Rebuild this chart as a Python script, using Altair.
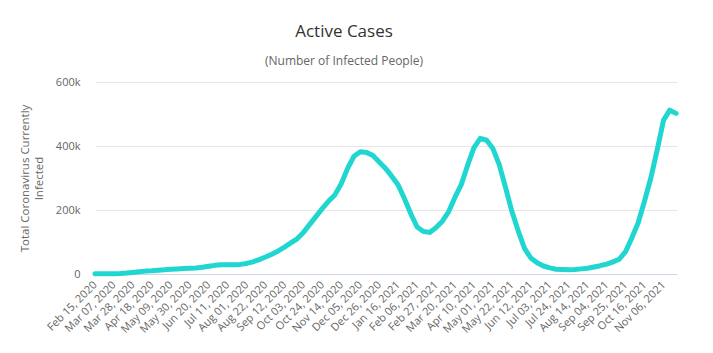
import altair as alt
import pandas as pd

# Weekly readings of active cases (thousands), starting Feb 15, 2020
start_date = "2020-02-15"
active_k = [
    0.5, 0.5, 0.5, 1, 1.5, 3, 5, 7, 9, 10,
    12, 13, 15, 16, 17, 18, 19, 21, 24, 27,
    29, 29, 29, 30, 33, 38, 45, 53, 62, 72,
    84, 97, 110, 130, 155, 180, 205, 228, 248, 283,
    330, 368, 382, 380, 370, 350, 330, 305, 278, 235,
    188, 147, 133, 130, 145, 165, 195, 240, 280, 340,
    395, 424, 418, 392, 342, 270, 196, 135, 80, 50,
    35, 25, 19, 15, 14, 13, 14, 16, 18, 22,
    26, 31, 38, 46, 70, 113, 160, 228, 300, 387,
    480, 512, 502,
]

tick_labels = [
    "2020-02-15", "2020-03-07", "2020-03-28", "2020-04-18", "2020-05-09",
    "2020-05-30", "2020-06-20", "2020-07-11", "2020-08-01", "2020-08-22",
    "2020-09-12", "2020-10-03", "2020-10-24", "2020-11-14", "2020-12-05",
    "2020-12-26", "2021-01-16", "2021-02-06", "2021-02-27", "2021-03-20",
    "2021-04-10", "2021-05-01", "2021-05-22", "2021-06-12", "2021-07-03",
    "2021-07-24", "2021-08-14", "2021-09-04", "2021-09-25", "2021-10-16",
    "2021-11-06",
]
y_ticks = [0, 200000, 400000, 600000]

dates = pd.date_range(start_date, periods=len(active_k), freq="7D")
df = pd.DataFrame({
    "date": dates.strftime("%Y-%m-%d"),
    "active": [v * 1000 for v in active_k],
})

def dt(s):
    y, m, d = (int(p) for p in s.split("-"))
    return alt.DateTime(year=y, month=m, date=d, utc=True)

FONT = "Open Sans"

chart = alt.Chart(df).mark_line(
    color="#20d6d1", strokeWidth=5, strokeJoin="round", strokeCap="round"
).encode(
    x=alt.X(
        "date:T",
        scale=alt.Scale(type="utc", domain=[dt("2020-02-15"), dt("2021-11-21")]),
        axis=alt.Axis(
            title=None,
            values=[dt(s) for s in tick_labels],
            format="%b %d, %Y",
            labelAngle=-45,
            labelAlign="right",
            labelBaseline="middle",
            labelFont=FONT,
            labelFontSize=11,
            labelColor="#666666",
            labelPadding=9,
            labelOverlap=False,
            labelBound=False,
            labelFlush=False,
            grid=False,
            ticks=False,
            domainColor="#ccd6eb",
            domainWidth=1,
        ),
    ),
    y=alt.Y(
        "active:Q",
        scale=alt.Scale(domain=[0, 600000], nice=False),
        axis=alt.Axis(
            title=["Total Coronavirus Currently", "Infected"],
            titleFont=FONT,
            titleFontSize=11.5,
            titleFontWeight="normal",
            titleColor="#666666",
            titleLineHeight=14,
            titlePadding=11,
            values=y_ticks,
            labelExpr="datum.value == 0 ? '0' : format(datum.value / 1000, 'd') + 'k'",
            labelFont=FONT,
            labelFontSize=11,
            labelColor="#666666",
            labelPadding=15,
            domain=False,
            ticks=False,
            gridColor="#e6e6e6",
            gridWidth=1,
        ),
    ),
).properties(
    width=582,
    height=192,
    padding={"left": 95, "top": 82, "right": 36, "bottom": 79},
    autosize=alt.AutoSizeParams(type="none"),
    title=alt.TitleParams(
        text="Active Cases",
        subtitle="(Number of Infected People)",
        anchor="middle",
        font=FONT,
        fontSize=17,
        fontWeight="normal",
        color="#333333",
        subtitleFont=FONT,
        subtitleFontSize=12,
        subtitleColor="#666666",
        subtitlePadding=15,
        offset=8,
        dx=-42,
    ),
).configure_view(stroke=None)

chart.save("out.html", embed_options={"renderer": "svg", "actions": False})
